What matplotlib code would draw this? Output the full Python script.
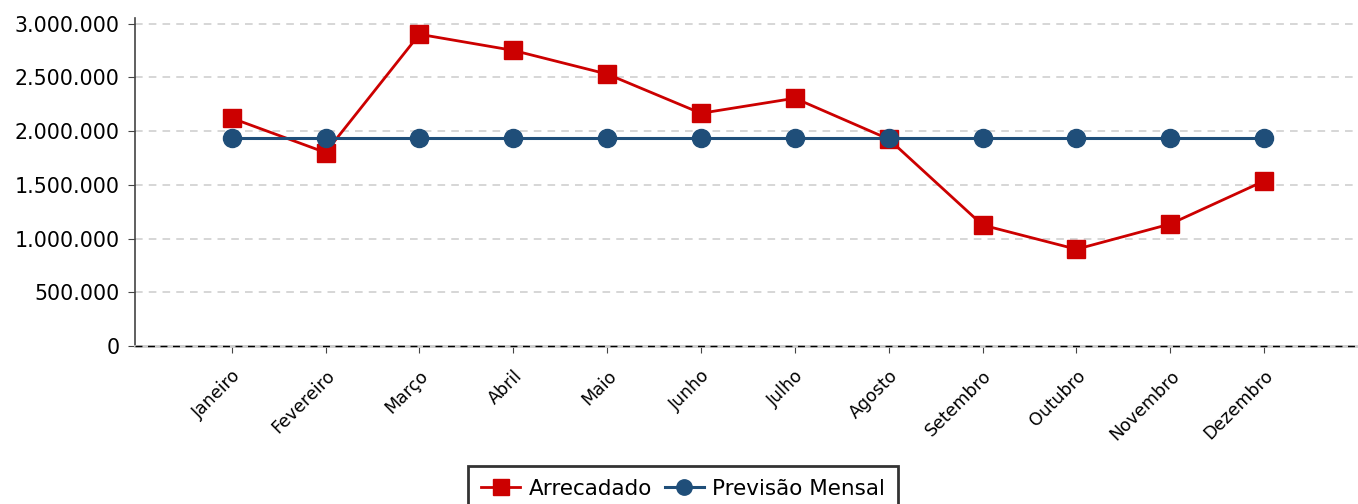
import numpy as np
import matplotlib.pyplot as plt
from matplotlib.ticker import FuncFormatter

# Dados
meses = ['Janeiro', 'Fevereiro', 'Março', 'Abril', 'Maio', 'Junho',
         'Julho', 'Agosto', 'Setembro', 'Outubro', 'Novembro', 'Dezembro']
arrecadado = [2120000, 1800000, 2900000, 2750000, 2530000, 2165000,
              2305000, 1925000, 1125000, 900000, 1135000, 1535000]
previsao = [1935000] * 12

x = np.arange(len(meses))

fig = plt.figure(figsize=(13.58, 5.04), dpi=100)
ax = fig.add_axes([0.0994, 0.3135, 0.9006, 0.6505])

ax.plot(x, arrecadado, color='#cc0000', linewidth=2, marker='s', markersize=13,
        label='Arrecadado', zorder=3)
ax.plot(x, previsao, color='#1f4e79', linewidth=2.2, marker='o', markersize=13,
        label='Previsão Mensal', zorder=4)

ax.set_xlim(-1.03, 12.0)
ax.set_ylim(0, 3050000)
ax.set_yticks(np.arange(0, 3000001, 500000))
ax.yaxis.set_major_formatter(FuncFormatter(lambda v, p: f'{int(v):,}'.replace(',', '.')))
ax.set_xticks(x)
ax.set_xticklabels(meses, rotation=45, ha='right', rotation_mode='anchor', fontsize=12.5)
ax.tick_params(axis='y', labelsize=14.8, length=5, color='#444444', pad=6)
ax.tick_params(axis='x', length=5, color='#444444', pad=10)

# Grade e eixos
ax.grid(axis='y', linestyle='--', color='#cccccc', linewidth=1.1, dashes=(5, 4))
ax.set_axisbelow(True)
for s in ['top', 'right']:
    ax.spines[s].set_visible(False)
ax.spines['left'].set_color('#444444')
ax.spines['left'].set_linewidth(1.2)
ax.spines['bottom'].set_color('#cccccc')
ax.spines['bottom'].set_linewidth(2)
ax.axhline(0, color='black', linestyle='--', linewidth=1, dashes=(5, 4),
           zorder=5, clip_on=False)

leg = fig.legend(loc='upper center', bbox_to_anchor=(0.503, 0.097), ncol=2,
                 fontsize=15.5, frameon=True, fancybox=False, edgecolor='black',
                 handlelength=1.8, columnspacing=0.6, handletextpad=0.4,
                 borderpad=0.6, markerscale=0.85)
leg.get_frame().set_linewidth(2)

plt.savefig('out.png', dpi=100)
